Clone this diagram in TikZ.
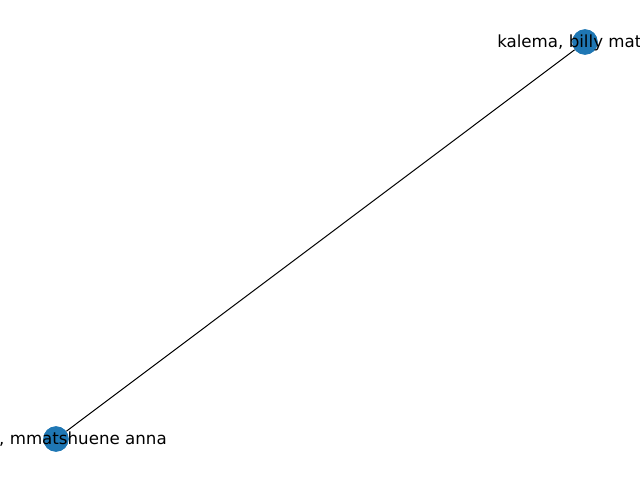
\documentclass[tikz,border=0pt]{standalone}
\usepackage{fontspec}
\setmainfont{DejaVu Sans}
\definecolor{nxblue}{HTML}{1F77B4}
\begin{document}
\begin{tikzpicture}[x=0.75pt,y=-0.75pt,
  vert/.style={circle,fill=nxblue,draw=none,minimum size=19pt,inner sep=0pt},
  lbl/.style={font=\fontsize{12.5}{15}\selectfont,inner sep=0pt,text=black},
  edge/.style={draw=black,line width=0.75pt}]
\useasboundingbox (0,0) rectangle (640,480);
\clip (0,0) rectangle (640,480);
\node[vert] (a) at (585,42) {};
\node[vert] (b) at (56,439) {};
\draw[edge] (a) -- (b);
\node[vert] at (a) {};
\node[vert] at (b) {};
\node[lbl,anchor=base west] (la) at (497,47) {kalema, billy mat};
\node[lbl,anchor=base east] (lb) at (167,444) {n, mmatshuene anna};
\end{tikzpicture}
\end{document}
